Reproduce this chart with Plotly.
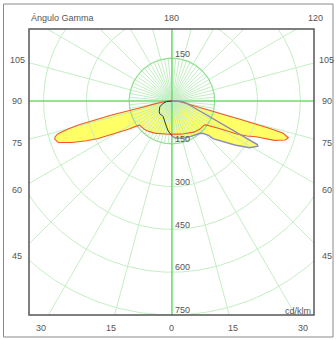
import numpy as np
import plotly.graph_objects as go

# Luminous intensity (cd/klm) against gamma angle (deg from nadir) for each C half-plane
gamma_c0 = [0, 5, 10, 15, 20, 25, 30, 35, 40, 45, 50, 53, 55, 57, 60, 63, 65, 67, 69, 71,
            72.5, 73.8, 74.4, 75, 76, 76.9, 78.5, 81, 86, 90]
inten_c0 = [116, 117, 118, 120, 122, 125, 129, 133, 136, 139, 140, 141, 146, 160, 195, 255,
            290, 320, 385, 420, 428, 406, 357, 250, 170, 113, 75, 48, 25, 0]

gamma_c180 = [0, 5, 10, 15, 20, 25, 30, 35, 40, 45, 50, 53, 55, 57, 60, 63, 65, 67.5, 70,
              72, 73, 74, 75, 75.6, 76.9, 78.1, 80, 83, 86, 90]
inten_c180 = [116, 117, 118, 120, 122, 125, 129, 133, 136, 139, 140, 141, 155, 182, 228, 290,
              330, 380, 424, 432, 428, 415, 375, 339, 217, 105, 68, 42, 25, 0]

gamma_c90 = [0, 5, 10, 15, 20, 27, 32, 37, 41, 44, 46, 47, 47.5, 50, 55, 59, 61, 62.3, 63,
             63.3, 63.7, 64.1, 64.7, 65.4, 66.4, 67.8, 70, 73.5, 81, 86, 88, 90]
inten_c90 = [122, 130, 132, 135, 137, 140, 142, 145, 150, 158, 168, 178, 195, 215, 269, 318,
             333, 340, 336, 311, 282, 253, 224, 195, 166, 137, 109, 80, 52, 40, 25, 0]

gamma_c270 = [0, 5, 7, 12, 19, 29, 36, 44, 50, 56, 65, 75, 85, 90]
inten_c270 = [122, 112, 106, 92, 77, 63, 61, 62, 58, 52, 47, 32, 18, 0]

ring_values = [150, 300, 450, 600, 750, 900]
ring_labels = ["150", "300", "450", "600", "750"]
gamma_ticks_right = [0, 15, 30, 45, 60, 75, 90, 105, 120, 180]
gamma_ticks_left = [15, 30, 45, 60, 75, 90, 105]

title_text = "Ángulo Gamma"
unit_text = "cd/klm"

# plot box in data units (cd/klm); centre of the diagram at (0, 0)
X_RANGE = [-501, 498]
Y_RANGE = [-750, 252.4]

FONT = dict(family="Liberation Sans, Arial, sans-serif", size=9, color="#555555")
GRID = "#c4eec4"
GRID_MID = "#8fe08f"
AXIS_GREEN = "#6fdc6f"


def to_xy(gammas, values, side):
    g = np.radians(np.asarray(gammas, dtype=float))
    v = np.asarray(values, dtype=float)
    return side * v * np.sin(g), -v * np.cos(g)


def closed_curve(g_right, v_right, g_left, v_left):
    xr, yr = to_xy(g_right, v_right, 1)
    xl, yl = to_xy(g_left, v_left, -1)
    x = np.concatenate([xr, xl[::-1], xr[:1]])
    y = np.concatenate([yr, yl[::-1], yr[:1]])
    return x, y


def data_to_paper(x, y):
    return ((x - X_RANGE[0]) / (X_RANGE[1] - X_RANGE[0]),
            (y - Y_RANGE[0]) / (Y_RANGE[1] - Y_RANGE[0]))


fig = go.Figure()

# filled distributions
red_x, red_y = closed_curve(gamma_c0, inten_c0, gamma_c180, inten_c180)
blue_x, blue_y = closed_curve(gamma_c90, inten_c90, gamma_c270, inten_c270)
for fx, fy in [(red_x, red_y), (blue_x, blue_y)]:
    fig.add_trace(go.Scatter(x=fx, y=fy, mode="lines", fill="toself",
                             fillcolor="#ffff66", line=dict(width=0),
                             hoverinfo="skip", showlegend=False))

# polar grid: rings and radial lines
th = np.linspace(0, 2 * np.pi, 361)
gx, gy = [], []
for r in ring_values:
    if r == 150:
        continue
    gx += list(r * np.sin(th)) + [None]
    gy += list(r * np.cos(th)) + [None]
for a in range(0, 360, 5):
    if a % 90 == 0:
        continue
    reach = 1300 if a % 15 == 0 else 150
    gx += [0, reach * np.sin(np.radians(a)), None]
    gy += [0, reach * np.cos(np.radians(a)), None]
fig.add_trace(go.Scatter(x=gx, y=gy, mode="lines", line=dict(color=GRID, width=1),
                         hoverinfo="skip", showlegend=False))
fig.add_trace(go.Scatter(x=150 * np.sin(th), y=150 * np.cos(th), mode="lines",
                         line=dict(color=GRID_MID, width=1.2),
                         hoverinfo="skip", showlegend=False))
fig.add_trace(go.Scatter(x=[0, 0, None, -1300, 1300], y=[-1300, 1300, None, 0, 0],
                         mode="lines", line=dict(color=AXIS_GREEN, width=1.6),
                         hoverinfo="skip", showlegend=False))

# outlines
fig.add_trace(go.Scatter(x=red_x, y=red_y, mode="lines",
                         line=dict(color="#ee5a2a", width=1.1),
                         hoverinfo="skip", showlegend=False))
bx, by = to_xy(gamma_c90, inten_c90, 1)
fig.add_trace(go.Scatter(x=bx, y=by, mode="lines",
                         line=dict(color="#8c8cb4", width=1.4),
                         hoverinfo="skip", showlegend=False))
kx, ky = to_xy(gamma_c270, inten_c270, -1)
fig.add_trace(go.Scatter(x=kx, y=ky, mode="lines",
                         line=dict(color="#333333", width=1),
                         hoverinfo="skip", showlegend=False))

labels = []  # (x, y, text, xanchor) in data units

# ring values along the vertical axis
for r, lab in zip(ring_values, ring_labels):
    labels.append((3, -r + 17, lab, "left"))
labels.append((3, 150 + 15, ring_labels[0], "left"))

# gamma labels where each ray meets the outer label frame
HALF_W, TOP, BOTTOM = 543, 291, 796


def ray_end(a, side):
    s, c = np.sin(np.radians(a)), np.cos(np.radians(a))
    t = HALF_W / s if s > 1e-9 else np.inf
    if c > 1e-9:
        t = min(t, BOTTOM / c)
    elif c < -1e-9:
        t = min(t, TOP / -c)
    return side * t * s, -t * c


for a in gamma_ticks_right:
    x, y = ray_end(a, 1)
    labels.append((x, y, str(a), "center"))
for a in gamma_ticks_left:
    x, y = ray_end(a, -1)
    labels.append((x, y, str(a), "center"))

labels.append((X_RANGE[0], TOP, title_text, "left"))
labels.append((X_RANGE[1] - 4, -736, unit_text, "right"))

annotations = []
for x, y, text, anchor in labels:
    px, py = data_to_paper(x, y)
    annotations.append(dict(x=px, y=py, xref="paper", yref="paper", text=text,
                            xanchor=anchor, yanchor="middle", showarrow=False,
                            font=FONT))


def px_to_paper(px, py):
    return (px - 29) / 285, (315 - py) / 286


ox0, oy0 = px_to_paper(3.5, 337)
ox1, oy1 = px_to_paper(333, 4)

fig.update_layout(
    width=336, height=340,
    margin=dict(l=29, r=22, t=29, b=25),
    paper_bgcolor="white", plot_bgcolor="white",
    xaxis=dict(range=X_RANGE, visible=False, fixedrange=True),
    yaxis=dict(range=Y_RANGE, visible=False, fixedrange=True),
    annotations=annotations,
    shapes=[
        dict(type="rect", xref="paper", yref="paper", x0=0, y0=0, x1=1, y1=1,
             line=dict(color="#555555", width=1.5)),
        dict(type="rect", xref="paper", yref="paper", x0=ox0, y0=oy0, x1=ox1, y1=oy1,
             line=dict(color="#8a8a8a", width=1)),
    ],
    showlegend=False,
)

fig.write_html("out.html")
